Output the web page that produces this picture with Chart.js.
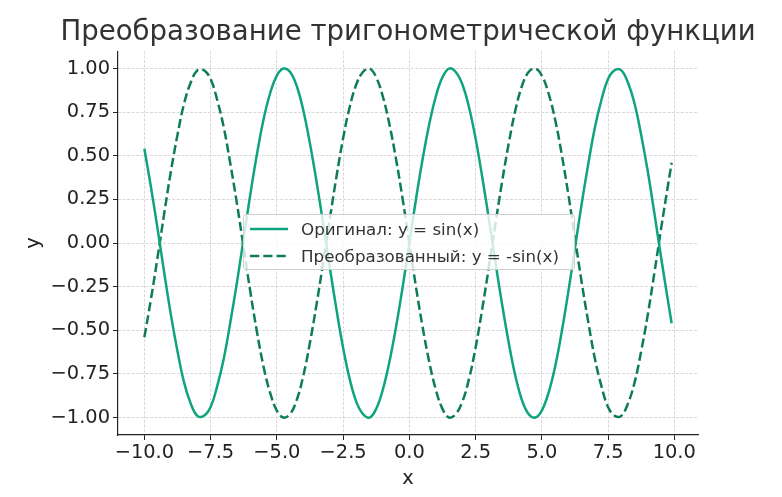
<!DOCTYPE html>
<html>
<head>
<meta charset="utf-8">
<script src="https://cdn.jsdelivr.net/npm/chart.js@4/dist/chart.umd.min.js"></script>
<style>
  html, body { margin: 0; padding: 0; background: #fff; }
  #wrap { position: relative; width: 782px; height: 497px; }
  #legend {
    position: absolute; left: 243px; top: 214px; width: 330px; height: 54px;
    border: 1px solid #d0d0d0; border-radius: 3px; background: rgba(255,255,255,0.8);
    font-family: 'DejaVu Sans'; font-size: 16.7px; color: #333;
  }
  .row { position: absolute; left: 6px; height: 22px; display: flex; align-items: center; white-space: nowrap; }
  .row span { margin-left: 13px; }
</style>
</head>
<body>
<div id="wrap">
  <canvas id="chart" width="782" height="497"></canvas>
  <div id="legend">
    <div class="row" style="top:3px"><svg width="38" height="4"><line x1="0" y1="2" x2="38" y2="2" stroke="#10a37f" stroke-width="2.5"/></svg><span>Оригинал: y = sin(x)</span></div>
    <div class="row" style="top:30px"><svg width="38" height="4"><line x1="0" y1="2" x2="38" y2="2" stroke="#0e7c5a" stroke-width="2.5" stroke-dasharray="9.25 4"/></svg><span>Преобразованный: y = -sin(x)</span></div>
  </div>
</div>
<script>
const xValues = [
  -10, -9.75, -9.5, -9.25, -9, -8.75, -8.5, -8.25, -8, -7.75, -7.5, -7.25, -7, -6.75, -6.5, -6.25,
  -6, -5.75, -5.5, -5.25, -5, -4.75, -4.5, -4.25, -4, -3.75, -3.5, -3.25, -3, -2.75, -2.5, -2.25,
  -2, -1.75, -1.5, -1.25, -1, -0.75, -0.5, -0.25, 0, 0.25, 0.5, 0.75, 1, 1.25, 1.5, 1.75,
  2, 2.25, 2.5, 2.75, 3, 3.25, 3.5, 3.75, 4, 4.25, 4.5, 4.75, 5, 5.25, 5.5, 5.75,
  6, 6.25, 6.5, 6.75, 7, 7.25, 7.5, 7.75, 8, 8.25, 8.5, 8.75, 9, 9.25, 9.5, 9.75, 9.9
];
const originalY = [
  0.54, 0.32, 0.08, -0.17, -0.41, -0.62, -0.80, -0.92, -0.99, -0.99, -0.94, -0.82, -0.66, -0.45, -0.22, 0.03,
  0.28, 0.51, 0.71, 0.86, 0.96, 1.00, 0.98, 0.90, 0.76, 0.57, 0.35, 0.11, -0.14, -0.38, -0.60, -0.78,
  -0.91, -0.98, -1.00, -0.95, -0.84, -0.68, -0.48, -0.25, 0.00, 0.25, 0.48, 0.68, 0.84, 0.95, 1.00, 0.98,
  0.91, 0.78, 0.60, 0.38, 0.14, -0.11, -0.35, -0.57, -0.76, -0.90, -0.98, -1.00, -0.96, -0.86, -0.71, -0.51,
  -0.28, -0.03, 0.22, 0.45, 0.66, 0.82, 0.94, 0.99, 0.99, 0.92, 0.80, 0.62, 0.41, 0.17, -0.08, -0.32, -0.46
];
const transformedY = [
  -0.54, -0.32, -0.08, 0.17, 0.41, 0.62, 0.80, 0.92, 0.99, 0.99, 0.94, 0.82, 0.66, 0.45, 0.22, -0.03,
  -0.28, -0.51, -0.71, -0.86, -0.96, -1.00, -0.98, -0.90, -0.76, -0.57, -0.35, -0.11, 0.14, 0.38, 0.60, 0.78,
  0.91, 0.98, 1.00, 0.95, 0.84, 0.68, 0.48, 0.25, 0.00, -0.25, -0.48, -0.68, -0.84, -0.95, -1.00, -0.98,
  -0.91, -0.78, -0.60, -0.38, -0.14, 0.11, 0.35, 0.57, 0.76, 0.90, 0.98, 1.00, 0.96, 0.86, 0.71, 0.51,
  0.28, 0.03, -0.22, -0.45, -0.66, -0.82, -0.94, -0.99, -0.99, -0.92, -0.80, -0.62, -0.41, -0.17, 0.08, 0.32, 0.46
];
const xTicks = [-10, -7.5, -5, -2.5, 0, 2.5, 5, 7.5, 10];
const yTicks = [-1, -0.75, -0.5, -0.25, 0, 0.25, 0.5, 0.75, 1];

const font = '"DejaVu Sans"';
const toPoints = ys => xValues.map((x, i) => ({ x, y: ys[i] }));
const minus = s => s.replace('-', '\u2212');

// title box is as wide as the plot area, too narrow for the text -> widen it around the same centre
const wideTitle = {
  id: 'wideTitle',
  afterLayout(chart) {
    const t = chart.titleBlock;
    const mid = (chart.chartArea.left + chart.chartArea.right) / 2;
    t.left = mid - 380;
    t.right = mid + 380;
    t.width = 760;
  }
};

new Chart(document.getElementById('chart'), {
  type: 'line',
  data: {
    datasets: [
      {
        label: 'Оригинал: y = sin(x)',
        data: toPoints(originalY),
        borderColor: '#10a37f',
        borderWidth: 2.5,
        pointRadius: 0,
        tension: 0.4
      },
      {
        label: 'Преобразованный: y = -sin(x)',
        data: toPoints(transformedY),
        borderColor: '#0e7c5a',
        borderWidth: 2.5,
        borderDash: [9.25, 4],
        pointRadius: 0,
        tension: 0.4
      }
    ]
  },
  plugins: [wideTitle],
  options: {
    responsive: false,
    animation: false,
    layout: { padding: { left: 22, right: 84, top: 0, bottom: 0 } },
    plugins: {
      legend: { display: false },
      tooltip: { enabled: false },
      title: {
        display: true,
        fullSize: false,
        text: 'Преобразование тригонометрической функции',
        color: '#333',
        font: { family: font, size: 27.6, weight: 'normal', lineHeight: 1.2 },
        padding: { top: 16.5, bottom: 1.5 }
      }
    },
    scales: {
      x: {
        type: 'linear',
        min: -10.995,
        max: 10.895,
        afterBuildTicks: axis => { axis.ticks = xTicks.map(v => ({ value: v })); },
        afterFit: axis => { axis.height = 62; },
        ticks: {
          color: '#222',
          padding: 1,
          font: { family: font, size: 19.4 },
          callback: v => minus(v.toFixed(1))
        },
        grid: { color: '#cfcfcf', lineWidth: 0.8, tickLength: 5, tickColor: '#222', tickWidth: 1 },
        border: { color: '#222', width: 1.2, dash: [3, 1.5] },
        title: { display: true, text: 'x', color: '#222', font: { family: font, size: 19.4, lineHeight: 1.2 }, padding: { top: 0, bottom: 6 } }
      },
      y: {
        type: 'linear',
        min: -1.1,
        max: 1.1,
        afterBuildTicks: axis => { axis.ticks = yTicks.map(v => ({ value: v })); },
        afterFit: axis => { axis.width = 96; },
        ticks: {
          color: '#222',
          padding: 3,
          font: { family: font, size: 19.4 },
          callback: v => minus(v.toFixed(2))
        },
        grid: { color: '#cfcfcf', lineWidth: 0.8, tickLength: 5, tickColor: '#222', tickWidth: 1 },
        border: { color: '#222', width: 1.2, dash: [3, 1.5] },
        title: { display: true, text: 'y', color: '#222', font: { family: font, size: 19.4, lineHeight: 1.2 }, padding: { top: 0, bottom: 0 } }
      }
    }
  }
});
</script>
</body>
</html>
